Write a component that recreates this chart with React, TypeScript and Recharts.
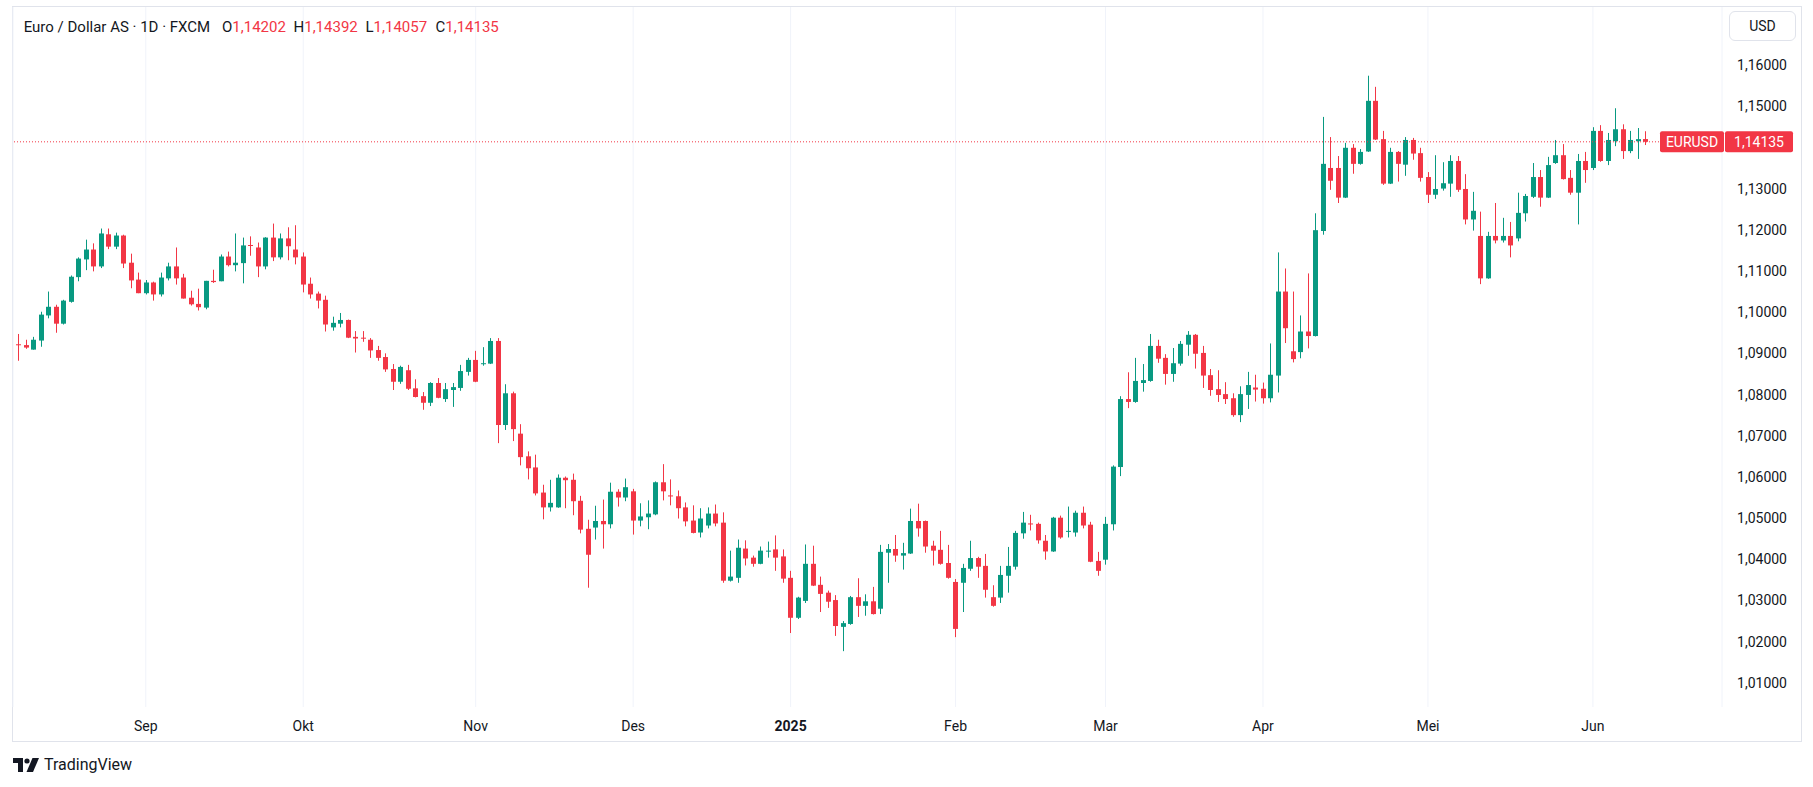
import React from 'react';
import { ComposedChart, Bar, XAxis, YAxis, CartesianGrid, ReferenceLine } from 'recharts';

// EUR/USD daily candles, 8 Aug 2024 .. 11 Jun 2025
const open = [
  1.0922, 1.0920, 1.0909, 1.0931, 1.0992, 1.1013, 1.0972, 1.1025, 1.1085, 1.1128,
  1.1152, 1.1111, 1.1189, 1.1159, 1.1186, 1.1120, 1.1079, 1.1046, 1.1072, 1.1043,
  1.1082, 1.1111, 1.1084, 1.1035, 1.1020, 1.1011, 1.1076, 1.1075, 1.1135, 1.1114,
  1.1119, 1.1163, 1.1157, 1.1111, 1.1181, 1.1133, 1.1179, 1.1152, 1.1135, 1.1069,
  1.1045, 1.1030, 1.0963, 1.0972, 1.0981, 1.0940, 1.0938, 1.0933, 1.0908, 1.0891,
  1.0862, 1.0831, 1.0859, 1.0815, 1.0796, 1.0780, 1.0828, 1.0789, 1.0811, 1.0816,
  1.0855, 1.0884, 1.0874, 1.0875, 1.0930, 1.0726, 1.0803, 1.0705, 1.0650, 1.0623,
  1.0562, 1.0526, 1.0526, 1.0598, 1.0593, 1.0542, 1.0474, 1.0477, 1.0493, 1.0485,
  1.0564, 1.0550, 1.0565, 1.0494, 1.0502, 1.0509, 1.0587, 1.0555, 1.0553, 1.0526,
  1.0494, 1.0465, 1.0482, 1.0511, 1.0489, 1.0348, 1.0355, 1.0426, 1.0404, 1.0389,
  1.0419, 1.0424, 1.0407, 1.0355, 1.0258, 1.0299, 1.0389, 1.0338, 1.0319, 1.0301,
  1.0236, 1.0243, 1.0308, 1.0287, 1.0298, 1.0280, 1.0416, 1.0425, 1.0409, 1.0414,
  1.0493, 1.0493, 1.0433, 1.0423, 1.0391, 1.0345, 1.0343, 1.0377, 1.0403, 1.0384,
  1.0308, 1.0307, 1.0360, 1.0382, 1.0463, 1.0487, 1.0486, 1.0445, 1.0419, 1.0501,
  1.0467, 1.0465, 1.0513, 1.0484, 1.0396, 1.0399, 1.0485, 1.0624, 1.0789, 1.0782,
  1.0828, 1.0833, 1.0918, 1.0889, 1.0850, 1.0875, 1.0921, 1.0945, 1.0901, 1.0847,
  1.0813, 1.0801, 1.0791, 1.0750, 1.0799, 1.0817, 1.0814, 1.0791, 1.0846, 1.1050,
  1.0905, 1.0903, 1.0953, 1.0942, 1.1197, 1.1350, 1.1350, 1.1278, 1.1399, 1.1360,
  1.1390, 1.1513, 1.1420, 1.1312, 1.1389, 1.1358, 1.1418, 1.1386, 1.1328, 1.1285,
  1.1300, 1.1312, 1.1367, 1.1299, 1.1225, 1.1185, 1.1082, 1.1185, 1.1174, 1.1185,
  1.1179, 1.1240, 1.1280, 1.1328, 1.1278, 1.1362, 1.1381, 1.1326, 1.1290, 1.1367,
  1.1350, 1.1440, 1.1367, 1.1415, 1.1444, 1.1391, 1.1415, 1.14202,
];
const high = [
  1.0947, 1.0933, 1.0940, 1.1001, 1.1050, 1.1018, 1.1030, 1.1089, 1.1133, 1.1176,
  1.1167, 1.1203, 1.1203, 1.1193, 1.1188, 1.1142, 1.1096, 1.1078, 1.1074, 1.1096,
  1.1120, 1.1157, 1.1093, 1.1052, 1.1057, 1.1076, 1.1103, 1.1140, 1.1147, 1.1191,
  1.1181, 1.1184, 1.1169, 1.1182, 1.1215, 1.1191, 1.1206, 1.1211, 1.1145, 1.1084,
  1.1050, 1.1040, 1.0989, 1.0998, 1.0982, 1.0954, 1.0954, 1.0937, 1.0918, 1.0900,
  1.0874, 1.0870, 1.0872, 1.0837, 1.0806, 1.0830, 1.0840, 1.0828, 1.0828, 1.0872,
  1.0889, 1.0906, 1.0915, 1.0937, 1.0937, 1.0825, 1.0807, 1.0728, 1.0662, 1.0654,
  1.0581, 1.0593, 1.0606, 1.0601, 1.0608, 1.0554, 1.0496, 1.0530, 1.0545, 1.0586,
  1.0570, 1.0596, 1.0571, 1.0536, 1.0543, 1.0589, 1.0631, 1.0594, 1.0567, 1.0538,
  1.0531, 1.0524, 1.0526, 1.0533, 1.0514, 1.0421, 1.0448, 1.0446, 1.0409, 1.0431,
  1.0443, 1.0458, 1.0424, 1.0372, 1.0309, 1.0436, 1.0433, 1.0358, 1.0324, 1.0313,
  1.0250, 1.0311, 1.0354, 1.0315, 1.0333, 1.0435, 1.0437, 1.0459, 1.0440, 1.0523,
  1.0535, 1.0494, 1.0445, 1.0469, 1.0435, 1.0352, 1.0389, 1.0445, 1.0406, 1.0413,
  1.0337, 1.0384, 1.0430, 1.0469, 1.0515, 1.0508, 1.0489, 1.0459, 1.0503, 1.0506,
  1.0528, 1.0518, 1.0528, 1.0491, 1.0418, 1.0503, 1.0628, 1.0796, 1.0854, 1.0889,
  1.0874, 1.0947, 1.0933, 1.0898, 1.0913, 1.0930, 1.0954, 1.0947, 1.0918, 1.0862,
  1.0859, 1.0830, 1.0803, 1.0820, 1.0855, 1.0848, 1.0829, 1.0924, 1.1145, 1.1106,
  1.1050, 1.0992, 1.1094, 1.1240, 1.1474, 1.1425, 1.1379, 1.1411, 1.1408, 1.1396,
  1.1574, 1.1547, 1.1440, 1.1399, 1.1391, 1.1425, 1.1423, 1.1399, 1.1340, 1.1381,
  1.1364, 1.1381, 1.1379, 1.1335, 1.1292, 1.1244, 1.1195, 1.1265, 1.1229, 1.1219,
  1.1290, 1.1287, 1.1362, 1.1345, 1.1377, 1.1418, 1.1408, 1.1345, 1.1384, 1.1389,
  1.1449, 1.1454, 1.1435, 1.1495, 1.1456, 1.1440, 1.1447, 1.14392,
];
const low = [
  1.0882, 1.0911, 1.0909, 1.0916, 1.0985, 1.0950, 1.0970, 1.1023, 1.1075, 1.1102,
  1.1099, 1.1107, 1.1153, 1.1153, 1.1107, 1.1058, 1.1046, 1.1043, 1.1028, 1.1038,
  1.1077, 1.1067, 1.1033, 1.1016, 1.1004, 1.1007, 1.1071, 1.1075, 1.1111, 1.1099,
  1.1070, 1.1137, 1.1085, 1.1104, 1.1124, 1.1128, 1.1126, 1.1116, 1.1048, 1.1033,
  1.1009, 1.0953, 1.0955, 1.0963, 1.0937, 1.0902, 1.0928, 1.0889, 1.0882, 1.0855,
  1.0811, 1.0826, 1.0811, 1.0793, 1.0763, 1.0772, 1.0791, 1.0782, 1.0770, 1.0809,
  1.0846, 1.0830, 1.0870, 1.0874, 1.0682, 1.0714, 1.0687, 1.0628, 1.0594, 1.0555,
  1.0497, 1.0516, 1.0525, 1.0524, 1.0507, 1.0463, 1.0331, 1.0448, 1.0426, 1.0475,
  1.0528, 1.0541, 1.0460, 1.0480, 1.0473, 1.0507, 1.0543, 1.0531, 1.0499, 1.0480,
  1.0463, 1.0453, 1.0475, 1.0480, 1.0343, 1.0346, 1.0343, 1.0385, 1.0382, 1.0388,
  1.0404, 1.0372, 1.0343, 1.0221, 1.0255, 1.0294, 1.0335, 1.0272, 1.0282, 1.0214,
  1.0177, 1.0241, 1.0260, 1.0263, 1.0266, 1.0267, 1.0343, 1.0394, 1.0375, 1.0413,
  1.0455, 1.0416, 1.0385, 1.0387, 1.0353, 1.0211, 1.0272, 1.0372, 1.0355, 1.0307,
  1.0285, 1.0294, 1.0319, 1.0375, 1.0450, 1.0470, 1.0438, 1.0399, 1.0418, 1.0450,
  1.0453, 1.0455, 1.0475, 1.0393, 1.0360, 1.0387, 1.0470, 1.0602, 1.0767, 1.0780,
  1.0807, 1.0831, 1.0877, 1.0824, 1.0831, 1.0870, 1.0894, 1.0863, 1.0816, 1.0797,
  1.0782, 1.0777, 1.0746, 1.0733, 1.0765, 1.0783, 1.0778, 1.0781, 1.0805, 1.0925,
  1.0878, 1.0888, 1.0912, 1.0941, 1.1188, 1.1297, 1.1265, 1.1277, 1.1336, 1.1358,
  1.1389, 1.1418, 1.1309, 1.1311, 1.1317, 1.1331, 1.1370, 1.1317, 1.1265, 1.1275,
  1.1295, 1.1280, 1.1292, 1.1213, 1.1198, 1.1068, 1.1081, 1.1167, 1.1169, 1.1133,
  1.1172, 1.1220, 1.1277, 1.1256, 1.1277, 1.1360, 1.1322, 1.1285, 1.1213, 1.1314,
  1.1345, 1.1365, 1.1357, 1.1403, 1.1372, 1.1386, 1.1372, 1.14057,
];
const close = [
  1.0920, 1.0914, 1.0933, 1.0994, 1.1013, 1.0972, 1.1028, 1.1086, 1.1130, 1.1152,
  1.1111, 1.1191, 1.1159, 1.1186, 1.1118, 1.1077, 1.1046, 1.1072, 1.1043, 1.1084,
  1.1111, 1.1082, 1.1033, 1.1019, 1.1012, 1.1076, 1.1073, 1.1135, 1.1114, 1.1120,
  1.1162, 1.1161, 1.1111, 1.1181, 1.1133, 1.1179, 1.1160, 1.1133, 1.1067, 1.1043,
  1.1028, 1.0970, 1.0974, 1.0981, 1.0938, 1.0936, 1.0936, 1.0907, 1.0889, 1.0861,
  1.0831, 1.0867, 1.0814, 1.0794, 1.0780, 1.0828, 1.0792, 1.0813, 1.0818, 1.0857,
  1.0884, 1.0831, 1.0876, 1.0930, 1.0726, 1.0803, 1.0716, 1.0648, 1.0621, 1.0560,
  1.0526, 1.0537, 1.0598, 1.0592, 1.0541, 1.0472, 1.0411, 1.0493, 1.0485, 1.0564,
  1.0550, 1.0575, 1.0494, 1.0504, 1.0511, 1.0587, 1.0565, 1.0553, 1.0524, 1.0492,
  1.0464, 1.0499, 1.0511, 1.0487, 1.0348, 1.0358, 1.0428, 1.0402, 1.0389, 1.0421,
  1.0421, 1.0404, 1.0353, 1.0258, 1.0307, 1.0389, 1.0336, 1.0316, 1.0297, 1.0238,
  1.0245, 1.0308, 1.0287, 1.0298, 1.0267, 1.0418, 1.0425, 1.0409, 1.0415, 1.0493,
  1.0475, 1.0431, 1.0421, 1.0389, 1.0355, 1.0231, 1.0379, 1.0403, 1.0382, 1.0326,
  1.0287, 1.0362, 1.0384, 1.0464, 1.0489, 1.0485, 1.0446, 1.0419, 1.0501, 1.0453,
  1.0469, 1.0513, 1.0482, 1.0394, 1.0372, 1.0486, 1.0625, 1.0789, 1.0782, 1.0833,
  1.0835, 1.0918, 1.0887, 1.0850, 1.0876, 1.0923, 1.0945, 1.0899, 1.0846, 1.0811,
  1.0799, 1.0789, 1.0750, 1.0801, 1.0823, 1.0812, 1.0791, 1.0848, 1.1050, 1.0961,
  1.0886, 1.0953, 1.0942, 1.1199, 1.1360, 1.1319, 1.1278, 1.1399, 1.1360, 1.1389,
  1.1513, 1.1419, 1.1312, 1.1389, 1.1360, 1.1418, 1.1385, 1.1326, 1.1285, 1.1299,
  1.1313, 1.1367, 1.1297, 1.1225, 1.1246, 1.1082, 1.1185, 1.1174, 1.1185, 1.1162,
  1.1241, 1.1282, 1.1328, 1.1278, 1.1357, 1.1381, 1.1323, 1.1290, 1.1367, 1.1345,
  1.1440, 1.1367, 1.1418, 1.1444, 1.1391, 1.1418, 1.1420, 1.14135,
];

const firstDay = '2024-08-08';
const closedDays = ['2024-12-25', '2025-01-01'];
const monthTicks = ['2024-09-02', '2024-10-01', '2024-11-01', '2024-12-02', '2025-01-02',
  '2025-02-03', '2025-03-03', '2025-04-01', '2025-05-01', '2025-06-02'];
const monthLabels = ['Sep', 'Okt', 'Nov', 'Des', '2025', 'Feb', 'Mar', 'Apr', 'Mei', 'Jun'];
const priceTicks = [1.01, 1.02, 1.03, 1.04, 1.05, 1.06, 1.07, 1.08, 1.09, 1.1,
  1.11, 1.12, 1.13, 1.14, 1.15, 1.16, 1.17];
const lastPrice = 1.14135;

const GREEN = '#089981';
const RED = '#F23645';
const TEXT = '#131722';
const FONT = 'Roboto, "Noto Sans", sans-serif';

// weekday calendar without the two closed days
function tradingDays(start: string, n: number) {
  const out: string[] = [];
  const d = new Date(start + 'T00:00:00Z');
  while (out.length < n) {
    const s = d.toISOString().slice(0, 10);
    const wd = d.getUTCDay();
    if (wd !== 0 && wd !== 6 && !closedDays.includes(s)) out.push(s);
    d.setUTCDate(d.getUTCDate() + 1);
  }
  return out;
}

const dates = tradingDays(firstDay, open.length);
const rows = dates.map((date, i) => ({
  date,
  open: open[i],
  high: high[i],
  low: low[i],
  close: close[i],
  range: [low[i], high[i]],
}));

const fmt = (v: number) => v.toFixed(5).replace('.', ',');

const Candle = (props: any) => {
  const { x, y, width, height, payload } = props;
  if (x == null || !payload) return <g />;
  const { open: o, high: h, low: l, close: c } = payload;
  const top = Math.min(y, y + height);
  const span = Math.abs(height);
  const k = span / (h - l);
  const py = (v: number) => top + (h - v) * k;
  const cx = Math.round(x + width / 2);
  const color = c >= o ? GREEN : RED;
  const bodyTop = py(Math.max(o, c));
  const bodyH = Math.max(1, py(Math.min(o, c)) - bodyTop);
  return (
    <g>
      <rect x={cx} y={top} width={1} height={span} fill={color} />
      <rect x={cx - 2} y={bodyTop} width={5} height={bodyH} fill={color} />
    </g>
  );
};

const TimeTick = (p: any) => {
  const label = monthLabels[monthTicks.indexOf(p.payload.value)];
  return (
    <text x={p.x} y={731} textAnchor="middle" fontSize={14} fontFamily={FONT}
      fontWeight={label === '2025' ? 700 : 400} fill={TEXT}>{label}</text>
  );
};

const PriceTick = (p: any) => {
  const v = p.payload.value;
  if (v > 1.165 || Math.abs(v - lastPrice) < 0.006) return <g />;
  return (
    <text x={1762} y={p.y} dy={5} textAnchor="middle" fontSize={14} fontFamily={FONT} fill={TEXT}>
      {fmt(v)}
    </text>
  );
};

const PriceTag = (p: any) => {
  const vb = p.viewBox;
  if (!vb) return <g />;
  const right = vb.x + vb.width;
  const cy = vb.y;
  return (
    <g fontFamily={FONT} fontSize={14} fill="#fff">
      <rect x={right - 62} y={cy - 10.5} width={64} height={21} rx={2} fill={RED} />
      <rect x={right + 3} y={cy - 10.5} width={68} height={21} rx={2} fill={RED} />
      <text x={right - 30} y={cy + 5} textAnchor="middle" fill="#fff">EURUSD</text>
      <text x={right + 37} y={cy + 5} textAnchor="middle" fill="#fff">{fmt(lastPrice)}</text>
    </g>
  );
};

// horizontal grid only on the price ticks
const gridY = (props: any) => {
  const s = props && props.yAxis && props.yAxis.scale;
  return typeof s === 'function' ? priceTicks.map((v) => s(v)) : [];
};

const legend = [
  { k: 'O', v: open[open.length - 1], left: 222 },
  { k: 'H', v: high[high.length - 1], left: 293.5 },
  { k: 'L', v: low[low.length - 1], left: 365.5 },
  { k: 'C', v: close[close.length - 1], left: 435.5 },
];

export default function App() {
  return (
    <div style={{ position: 'absolute', left: 0, top: 0, width: 1813, height: 787, background: '#fff', fontFamily: FONT, color: TEXT, overflow: 'hidden' }}>
      <div style={{ position: 'absolute', left: 12, top: 6, width: 1790, height: 736, border: '1px solid #e0e3eb', boxSizing: 'border-box' }} />
      <div style={{ position: 'absolute', left: 0, top: 0 }}>
        <ComposedChart width={1813} height={787} data={rows} margin={{ top: 7, right: 12, bottom: 45, left: 13 }}>
          <CartesianGrid stroke="#f0f3fa" horizontalCoordinatesGenerator={gridY} />
          <XAxis dataKey="date" type="category" ticks={monthTicks} interval={0} height={35}
            axisLine={false} tickLine={false} padding={{ left: 1.55, right: 72.85 }} tick={TimeTick} />
          <YAxis orientation="right" width={79} domain={[1.00414, 1.17408]} allowDataOverflow
            ticks={priceTicks} axisLine={false} tickLine={false} tick={PriceTick} />
          <Bar dataKey="range" barSize={5} shape={Candle} isAnimationActive={false} />
          <ReferenceLine y={lastPrice} stroke={RED} strokeDasharray="1 2" label={PriceTag} />
        </ComposedChart>
      </div>
      <div style={{ position: 'absolute', left: 23.7, top: 18, fontSize: 15, lineHeight: '18px', whiteSpace: 'nowrap' }}>
        Euro / Dollar AS · 1D · FXCM
      </div>
      {legend.map((g) => (
        <div key={g.k} style={{ position: 'absolute', left: g.left, top: 18, fontSize: 15, lineHeight: '18px', whiteSpace: 'nowrap' }}>
          {g.k}<span style={{ color: RED }}>{fmt(g.v)}</span>
        </div>
      ))}
      <div style={{ position: 'absolute', left: 1729, top: 11, width: 67, height: 30, border: '1px solid #e0e3eb', borderRadius: 6, boxSizing: 'border-box', fontSize: 14, lineHeight: '28px', textAlign: 'center' }}>
        USD
      </div>
      <div style={{ position: 'absolute', left: 13, top: 755, display: 'flex', alignItems: 'center', gap: 5 }}>
        <svg width={26} height={14} viewBox="0 0 26 14">
          <path d="M0 0H10V14H5V5H0Z" fill={TEXT} />
          <circle cx={14} cy={3} r={2.6} fill={TEXT} />
          <path d="M19.5 0H26L20 14H13.5Z" fill={TEXT} />
        </svg>
        <span style={{ fontSize: 16, lineHeight: '20px' }}>TradingView</span>
      </div>
    </div>
  );
}
